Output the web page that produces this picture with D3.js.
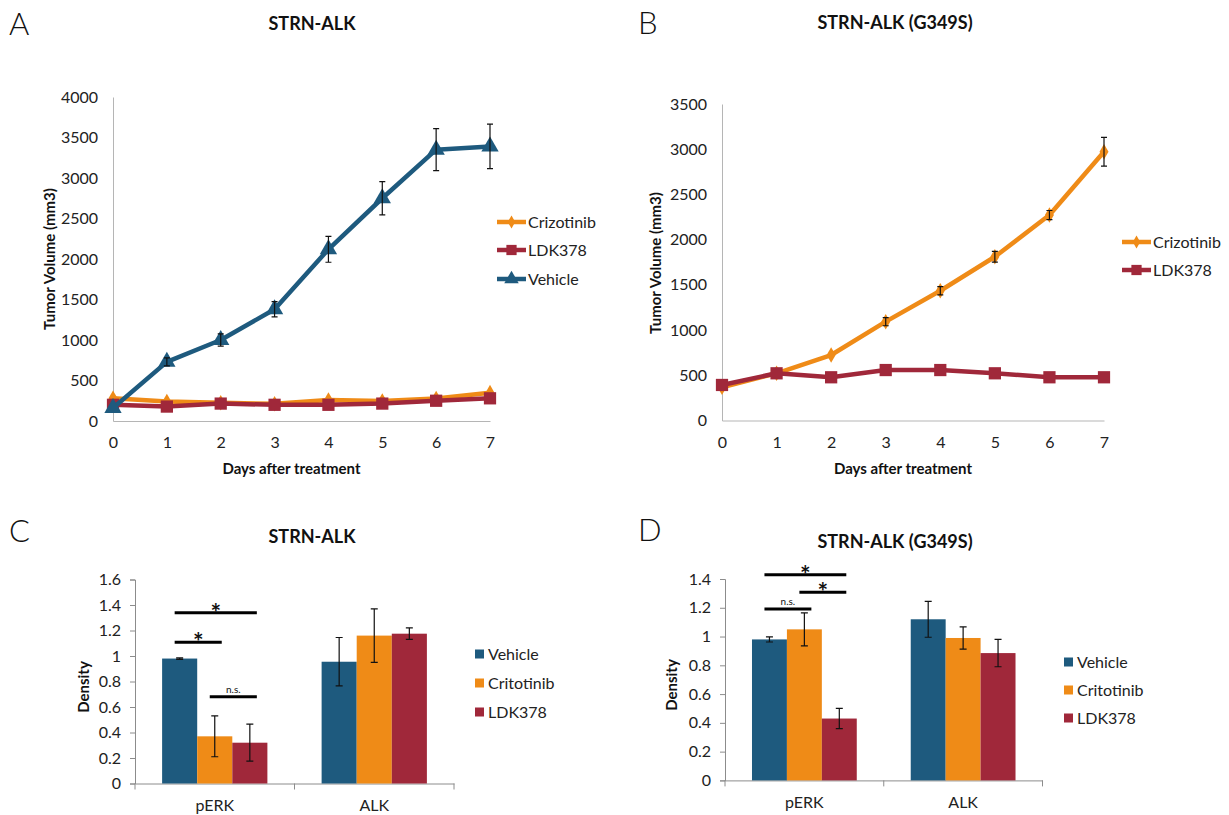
<!DOCTYPE html>
<html>
<head>
<meta charset="utf-8">
<title>STRN-ALK tumor volume and density</title>
<style>
  body { margin: 0; background: #fff; }
  svg { display: block; font-family: Lato, "Open Sans", sans-serif; }
  .panel-letter { font-size: 31px; font-weight: 300; fill: #111; }
  .title { font-size: 18px; font-weight: bold; fill: #111; }
  .axis-title { font-size: 15px; font-weight: bold; fill: #111; }
  .tick text { font-size: 16px; fill: #222; font-family: Lato, "Open Sans", sans-serif; }
  .legend text { font-size: 16px; fill: #222; }
  .err { stroke: #111; stroke-width: 1.2px; fill: none; }
</style>
</head>
<body>
<svg id="chart" width="1229" height="815"></svg>
<script src="https://d3js.org/d3.v7.min.js"></script>
<script>
// ---- data ----
var days = [0, 1, 2, 3, 4, 5, 6, 7];

// panel A: STRN-ALK
var aCrizotinib    = [280, 240, 226, 212, 258, 247, 278, 350];
var aCrizotinibErr = [0, 0, 0, 0, 0, 0, 0, 0];
var aLDK378        = [200, 178, 215, 200, 200, 215, 250, 280];
var aLDK378Err     = [0, 0, 0, 0, 0, 0, 0, 0];
var aVehicle       = [160, 730, 1000, 1380, 2120, 2750, 3350, 3390];
var aVehicleErr    = [0, 50, 75, 95, 160, 205, 260, 275];

// panel B: STRN-ALK (G349S)
var bCrizotinib    = [367, 522, 724, 1093, 1435, 1811, 2272, 2972];
var bCrizotinibErr = [0, 0, 0, 45, 45, 60, 50, 160];
var bLDK378        = [393, 522, 478, 558, 558, 522, 478, 478];
var bLDK378Err     = [0, 0, 0, 0, 0, 0, 0, 0];

// panels C and D: density
var groups = ["pERK", "ALK"];
var barSeries = ["Vehicle", "Critotinib", "LDK378"];

var cVehicle = [0.98, 0.955],  cVehicleErr = [0.006, 0.19];
var cCrito   = [0.37, 1.16],   cCritoErr   = [0.16, 0.21];
var cLDK     = [0.32, 1.175],  cLDKErr     = [0.145, 0.045];

var dVehicle = [0.98, 1.12],   dVehicleErr = [0.018, 0.125];
var dCrito   = [1.05, 0.99],   dCritoErr   = [0.115, 0.077];
var dLDK     = [0.43, 0.885],  dLDKErr     = [0.07, 0.095];

// significance brackets (pERK group, bar index from/to, level, label)
var cSigFrom = [0, 0, 1], cSigTo = [2, 1, 2];
var cSigLevel = [1.34, 1.107, 0.68], cSigLabel = ["*", "*", "n.s."];
var dSigFrom = [0, 1, 0], dSigTo = [2, 2, 1];
var dSigLevel = [1.429, 1.308, 1.192], dSigLabel = ["*", "*", "n.s."];

var yTicksA = [0, 500, 1000, 1500, 2000, 2500, 3000, 3500, 4000];
var yTicksB = [0, 500, 1000, 1500, 2000, 2500, 3000, 3500];

var colors = { blue: "#1e5a7e", orange: "#ef8b17", red: "#a0283a" };

var svg = d3.select("#chart");

// ---- line charts ----
function lineChart(o) {
    var g = svg.append("g");
    var x = d3.scaleLinear().domain([0, 7]).range([o.x0, o.x1]);
    var y = d3.scaleLinear().domain([0, o.ymax]).range([o.y0, o.y1]);

    g.append("g")
        .attr("transform", "translate(0," + o.y0 + ")")
        .call(d3.axisBottom(x).tickValues(days).tickFormat(d3.format("d")).tickSize(0).tickPadding(16))
        .call(function(s){ s.select(".domain").attr("stroke", "#b5b5b5"); });
    g.append("g")
        .attr("transform", "translate(" + o.x0 + ",0)")
        .call(d3.axisLeft(y).tickValues(o.yticks).tickFormat(d3.format("d")).tickSize(0).tickPadding(15))
        .call(function(s){ s.select(".domain").attr("stroke", "#b5b5b5"); });

    var line = d3.line().x(function(d, i){ return x(days[i]); }).y(function(d){ return y(d); });

    o.series.forEach(function(s) {
        g.append("path")
            .attr("d", line(s.values))
            .attr("fill", "none")
            .attr("stroke", s.color)
            .attr("stroke-width", 4.5)
            .attr("stroke-linejoin", "round");
        g.selectAll(null).data(s.values).enter().append("path")
            .attr("transform", function(d, i){ return "translate(" + x(days[i]) + "," + y(d) + ")"; })
            .attr("d", d3.symbol().type(s.symbol).size(s.size))
            .attr("fill", s.color);
    });
    o.series.forEach(function(s) {
        s.values.forEach(function(v, i) {
            var e = s.err[i];
            if (!e) return;
            var cx = x(days[i]);
            g.append("path").attr("class", "err")
                .attr("d", "M" + (cx - 3) + "," + y(v + e) + "h6M" + cx + "," + y(v + e) +
                           "V" + y(v - e) + "M" + (cx - 3) + "," + y(v - e) + "h6");
        });
    });

    g.append("text").attr("class", "axis-title")
        .attr("x", (o.x0 + o.x1) / 2 - 10).attr("y", 474)
        .attr("text-anchor", "middle").text("Days after treatment");
    g.append("text").attr("class", "axis-title")
        .attr("transform", "translate(" + o.ytx + "," + o.yty + ") rotate(-90)")
        .attr("text-anchor", "middle").text("Tumor Volume (mm3)");

    var lg = g.append("g").attr("class", "legend");
    o.series.forEach(function(s, i) {
        var ly = o.legY[i];
        lg.append("line").attr("x1", o.legX).attr("x2", o.legX + 29)
            .attr("y1", ly).attr("y2", ly)
            .attr("stroke", s.color).attr("stroke-width", 4.5);
        lg.append("path")
            .attr("transform", "translate(" + (o.legX + 14.5) + "," + ly + ")")
            .attr("d", d3.symbol().type(s.symbol).size(s.size * 0.7))
            .attr("fill", s.color);
        lg.append("text").attr("x", o.legX + 31).attr("y", ly)
            .attr("dy", "0.35em").text(s.name);
    });
}

lineChart({
    x0: 113, x1: 490, y0: 421, y1: 97, ymax: 4000, yticks: yTicksA,
    ytx: 55, yty: 259, legX: 497, legY: [222, 250, 279],
    series: [
        { name: "Crizotinib", values: aCrizotinib, err: aCrizotinibErr, color: colors.orange, symbol: d3.symbolDiamond, size: 70 },
        { name: "LDK378", values: aLDK378, err: aLDK378Err, color: colors.red, symbol: d3.symbolSquare, size: 150 },
        { name: "Vehicle", values: aVehicle, err: aVehicleErr, color: colors.blue, symbol: d3.symbolTriangle, size: 130 }
    ]
});

lineChart({
    x0: 722, x1: 1104, y0: 420.5, y1: 104, ymax: 3500, yticks: yTicksB,
    ytx: 661, yty: 263, legX: 1122, legY: [242, 270],
    series: [
        { name: "Crizotinib", values: bCrizotinib, err: bCrizotinibErr, color: colors.orange, symbol: d3.symbolDiamond, size: 70 },
        { name: "LDK378", values: bLDK378, err: bLDK378Err, color: colors.red, symbol: d3.symbolSquare, size: 150 }
    ]
});

// ---- bar charts ----
function barChart(o) {
    var g = svg.append("g");
    var x = d3.scaleBand().domain(groups).range([o.x0, o.x1]);
    var xs = d3.scaleBand().domain(barSeries)
        .range([x.bandwidth() * 0.17, x.bandwidth() * 0.83]);
    var y = d3.scaleLinear().domain([0, o.ymax]).range([o.y0, o.y1]);
    var fmt = function(d){ return String(+d.toFixed(1)); };

    g.append("g")
        .attr("transform", "translate(" + o.x0 + ",0)")
        .call(d3.axisLeft(y).ticks(o.ymax / 0.2).tickFormat(fmt).tickSize(5).tickPadding(9))
        .call(function(s){ s.selectAll("line, .domain").attr("stroke", "#8c8c8c"); });

    var xa = g.append("g")
        .attr("transform", "translate(0," + o.y0 + ")")
        .call(d3.axisBottom(x).tickSize(0).tickPadding(16));
    xa.select(".domain").attr("stroke", "#8c8c8c");
    var edges = groups.map(function(k){ return x(k); }).concat([o.x1]);
    xa.selectAll(".edge").data(edges).enter().append("line")
        .attr("x1", function(d){ return d; }).attr("x2", function(d){ return d; })
        .attr("y1", 0).attr("y2", 6).attr("stroke", "#8c8c8c");

    var sColors = [colors.blue, colors.orange, colors.red];
    o.values.forEach(function(vals, si) {
        vals.forEach(function(v, gi) {
            var bx = x(groups[gi]) + xs(barSeries[si]);
            g.append("rect")
                .attr("x", bx).attr("width", xs.bandwidth())
                .attr("y", y(v)).attr("height", y(0) - y(v))
                .attr("fill", sColors[si]);
        });
    });
    o.values.forEach(function(vals, si) {
        var errs = o.errs[si];
        vals.forEach(function(v, gi) {
            var cx = x(groups[gi]) + xs(barSeries[si]) + xs.bandwidth() / 2;
            var e = errs[gi];
            g.append("path").attr("class", "err")
                .attr("d", "M" + (cx - 3.5) + "," + y(v + e) + "h7M" + cx + "," + y(v + e) +
                           "V" + y(v - e) + "M" + (cx - 3.5) + "," + y(v - e) + "h7");
        });
    });

    // significance brackets
    o.sigFrom.forEach(function(f, i) {
        var cf = x("pERK") + xs(barSeries[f]) + xs.bandwidth() / 2;
        var ct = x("pERK") + xs(barSeries[o.sigTo[i]]) + xs.bandwidth() / 2;
        var x1 = cf - 5, x2 = ct + 7, ly = y(o.sigLevel[i]);
        g.append("line").attr("x1", x1).attr("x2", x2).attr("y1", ly).attr("y2", ly)
            .attr("stroke", "#000").attr("stroke-width", 3);
        var star = o.sigLabel[i] === "*";
        g.append("text")
            .attr("x", (x1 + x2) / 2).attr("y", star ? ly + 9 : ly - 4)
            .attr("text-anchor", "middle")
            .style("font-size", star ? "25px" : "10px")
            .style("font-weight", star ? "bold" : "normal")
            .style("fill", "#111")
            .text(o.sigLabel[i]);
    });

    g.append("text").attr("class", "axis-title")
        .attr("transform", "translate(" + o.ytx + "," + o.yty + ") rotate(-90)")
        .attr("text-anchor", "middle").text("Density");

    var lg = g.append("g").attr("class", "legend");
    barSeries.forEach(function(s, i) {
        var ly = o.legY[i];
        lg.append("rect").attr("x", o.legX).attr("y", ly - 4.5)
            .attr("width", 9).attr("height", 9).attr("fill", sColors[i]);
        lg.append("text").attr("x", o.legX + 13).attr("y", ly)
            .attr("dy", "0.35em").text(s);
    });
}

barChart({
    x0: 135, x1: 454, y0: 783.5, y1: 579.5, ymax: 1.6,
    values: [cVehicle, cCrito, cLDK], errs: [cVehicleErr, cCritoErr, cLDKErr],
    sigFrom: cSigFrom, sigTo: cSigTo, sigLevel: cSigLevel, sigLabel: cSigLabel,
    ytx: 89, yty: 687, legX: 475, legY: [654, 683, 712]
});

barChart({
    x0: 725, x1: 1042.5, y0: 780.4, y1: 579, ymax: 1.4,
    values: [dVehicle, dCrito, dLDK], errs: [dVehicleErr, dCritoErr, dLDKErr],
    sigFrom: dSigFrom, sigTo: dSigTo, sigLevel: dSigLevel, sigLabel: dSigLabel,
    ytx: 677, yty: 685, legX: 1064, legY: [662, 690, 718]
});

// ---- titles and panel letters ----
var titles = [
    { letter: "A", lx: 9, ly: 35, title: "STRN-ALK", tx: 312, ty: 30 },
    { letter: "B", lx: 638, ly: 34, title: "STRN-ALK (G349S)", tx: 895, ty: 29 },
    { letter: "C", lx: 9, ly: 542, title: "STRN-ALK", tx: 312, ty: 543 },
    { letter: "D", lx: 638, ly: 541, title: "STRN-ALK (G349S)", tx: 895, ty: 548 }
];
titles.forEach(function(t) {
    svg.append("text").attr("class", "panel-letter").attr("x", t.lx).attr("y", t.ly).text(t.letter);
    svg.append("text").attr("class", "title").attr("x", t.tx).attr("y", t.ty)
        .attr("text-anchor", "middle").text(t.title);
});
</script>
</body>
</html>
